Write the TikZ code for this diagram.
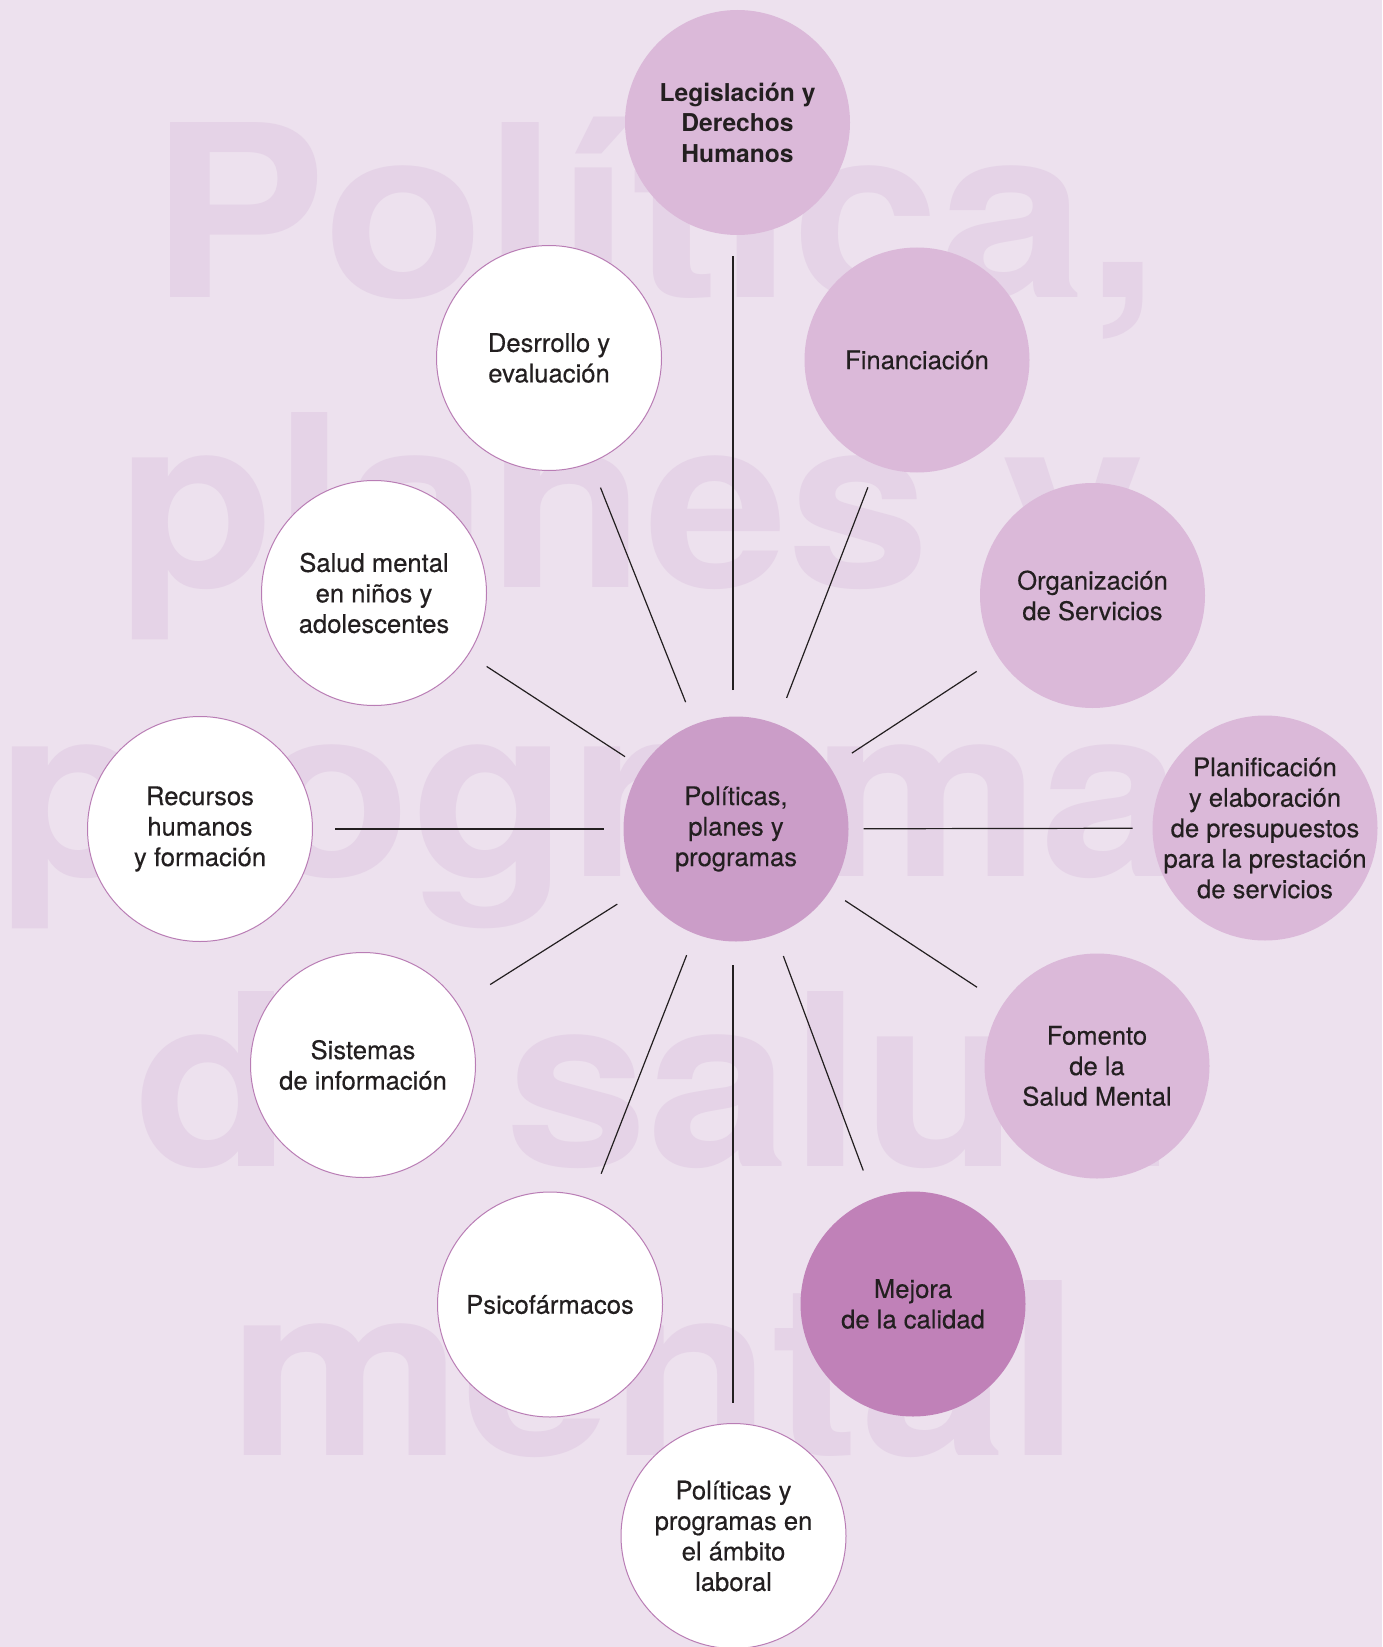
\documentclass[tikz,border=0pt]{standalone}
\usepackage{fontspec}
\setmainfont{TeX Gyre Heros}
\newfontfamily\medfont{TeX Gyre Heros}[FakeBold=0.35]
\usepackage{graphicx}
\definecolor{bg}{HTML}{EDE1EE}
\definecolor{wm}{HTML}{E5D3E7}
\definecolor{lightfill}{HTML}{DBB9D9}
\definecolor{midfill}{HTML}{CB9DC8}
\definecolor{darkfill}{HTML}{C081B8}
\definecolor{rim}{HTML}{B97DB5}
\definecolor{ink}{HTML}{231F20}
\begin{document}
\begin{tikzpicture}[x=0.5pt,y=-0.5pt,
  bubble/.style={circle, minimum size=112.5pt, inner sep=-10pt, outer sep=0pt, align=center, text=ink, font=\medfont\fontsize{12.8}{15.25}\selectfont},
  lightb/.style={bubble, fill=lightfill},
  whiteb/.style={bubble, fill=white, draw=rim, line width=0.5pt},
  spoke/.style={draw=ink, line width=0.6pt},
  wmtext/.style={anchor=base, inner sep=0pt, text=wm, font=\fontsize{120}{120}\selectfont\bfseries}]
\useasboundingbox (0,0) rectangle (1382,1647);
\fill[bg] (0,0) rectangle (1382,1647);
% watermark
\node[wmtext] (w1) at (655,298) {\scalebox{1.1}[1]{Política,}};
\node[wmtext] (w2) at (631,587) {\scalebox{1.07}[1]{planes y}};
\node[wmtext] (w3) at (662,876) {\scalebox{1.07}[1]{programas}};
\node[wmtext] (w4) at (655,1166) {\scalebox{1.07}[1]{de salud}};
\node[wmtext] (w5) at (655,1455) {\scalebox{1.1}[1]{mental}};
% circles
\node[lightb, font=\fontsize{12.3}{15.25}\selectfont\bfseries] (leg) at (737.5,122.5) {Legislación y\\Derechos\\Humanos};
\node[lightb] (fin) at (917,360) {Financiación};
\node[whiteb] (des) at (549,358) {Desrrollo y\\evaluación};
\node[lightb] (org) at (1092.5,595.5) {Organización\\de Servicios};
\node[whiteb] (sal) at (374,593) {Salud mental\\en niños y\\adolescentes};
\node[bubble, fill=midfill] (cen) at (736,829) {Políticas,\\planes y\\programas};
\node[whiteb] (rec) at (200,829) {Recursos\\humanos\\y formación};
\node[lightb] (pla) at (1265,828) {Planificación\\y elaboración\\de presupuestos\\para la prestación\\de servicios};
\node[whiteb] (sis) at (363,1065) {Sistemas\\de información};
\node[lightb] (fom) at (1097,1066) {Fomento\\de la\\Salud Mental};
\node[whiteb] (psi) at (550,1304.5) {Psicofármacos};
\node[bubble, fill=darkfill] (mej) at (913,1304) {Mejora\\de la calidad};
\node[whiteb] (lab) at (733.5,1536) {Políticas y\\programas en\\el ámbito\\laboral};
% spokes
\draw[spoke, shorten <=69.5pt, shorten >=67pt] ([xshift=-1.5pt]cen.center) -- ([xshift=-2.25pt]leg.center);
\draw[spoke, shorten <=14pt, shorten >=12pt] (cen) -- (fin);
\draw[spoke, shorten <=12pt, shorten >=13.5pt] (cen) -- (des);
\draw[spoke, shorten <=13pt, shorten >=13pt] (cen) -- (org);
\draw[spoke, shorten <=10pt, shorten >=11pt] (cen) -- (sal);
\draw[spoke, shorten <=7.5pt, shorten >=10pt] (cen) -- (pla);
\draw[spoke, shorten <=10pt, shorten >=11pt] (cen) -- (rec);
\draw[spoke, shorten <=9pt, shorten >=15.5pt] (cen) -- (fom);
\draw[spoke, shorten <=14pt, shorten >=19pt] (cen) -- (sis);
\draw[spoke, shorten <=11.5pt, shorten >=14pt] (cen) -- (psi);
\draw[spoke, shorten <=11.5pt, shorten >=15pt] (cen) -- (mej);
\draw[spoke, shorten <=68pt, shorten >=66.5pt] ([xshift=-1.5pt]cen.center) -- ([xshift=-0.25pt]lab.center);
\end{tikzpicture}
\end{document}
